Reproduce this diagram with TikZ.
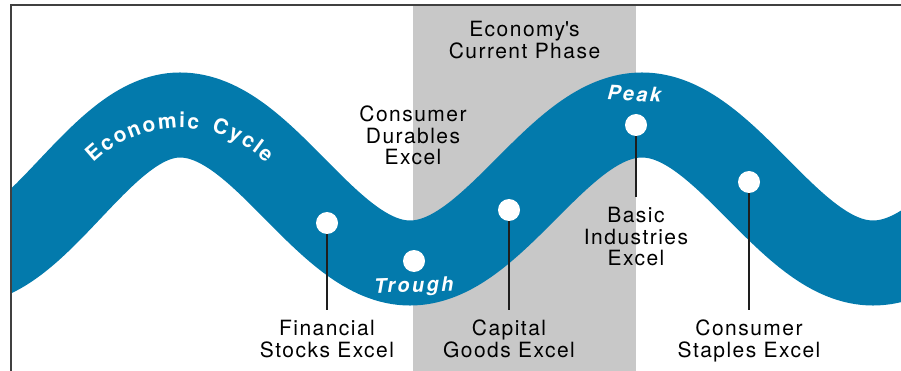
\documentclass[tikz,border=0pt]{standalone}
\usepackage{fontspec}
\setmainfont{TeX Gyre Heros}
\definecolor{bandblue}{RGB}{3,122,172}
\definecolor{phasegray}{RGB}{200,200,200}
\definecolor{pincol}{RGB}{30,30,30}
\newcommand\lblfont{\fontsize{21}{21.5}\selectfont\addfontfeatures{LetterSpace=7}}
\newcommand\cycfont{\fontsize{21}{21}\selectfont\bfseries}
\newcommand\bandfont{\fontsize{20}{20}\selectfont\bfseries\itshape\addfontfeatures{LetterSpace=12}}
\begin{document}
\begin{tikzpicture}[x=1pt,y=-1pt,
  dot/.style={circle, fill=white, minimum size=22pt, inner sep=0pt},
  pinline/.style={draw=pincol, line width=1.6pt},
  lbl/.style={align=center, inner sep=0pt, font=\lblfont, text=black},
  pinlbl/.style={lbl, inner ysep=10pt, anchor=north},
  cyc/.style={text=white, inner sep=0pt, font=\cycfont, anchor=base},
  bandlbl/.style={text=white, inner sep=0pt, font=\bandfont, anchor=base},
  frameline/.style={draw=black!75, line width=1.2pt}]
\useasboundingbox (0,0) rectangle (901,371);
% current phase band
\fill[phasegray] (413,5) rectangle (636,371);
% economic cycle wave
\begin{scope}
  \clip (11,5) rectangle (901,371);
  \draw[bandblue, line width=85pt] (-155,189) sin (-40,263) cos (70,189) sin (180,115)
    cos (295,189) sin (410,263) cos (526,189) sin (642,115) cos (757.5,189) sin (873,263)
    cos (990,189) sin (1105,115);
\end{scope}
% frame
\draw[frameline] (11,371) -- (11,5) -- (901,5);
% labels
\node[lbl, anchor=north] (ph) at (524.5,21) {Economy\textquotesingle s\\Current Phase};
\node[lbl, anchor=north] (dur) at (413,106) {Consumer\\Durables\\Excel};
\node[pinlbl] (l1) at (327,310) {Financial\\Stocks Excel};
\node[pinlbl] (l3) at (509,310) {Capital\\Goods Excel};
\node[pinlbl] (l4) at (636,197) {Basic\\Industries\\Excel};
\node[pinlbl] (l5) at (749,310) {Consumer\\Staples Excel};
% dots
\node[dot] (d1) at (327,223) {};
\node[dot] (d2) at (414,261) {};
\node[dot] (d3) at (509,210) {};
\node[dot] (d4) at (636,125) {};
\node[dot] (d5) at (749,182) {};
% pins
\draw[pinline] (d1) -- (l1);
\draw[pinline] (d3) -- (l3);
\draw[pinline] (d4) -- (l4);
\draw[pinline] (d5) -- (l5);
% band text
\foreach \ch/\ang [count=\i] in {E/130.97, c/124.10, o/117.52, n/110.68, o/103.84, m/95.64, i/89.06, c/84.09,
  C/71.87, y/64.73, c/58.40, l/53.43, e/48.46}
  \node[cyc, rotate=\ang-90] (ec\i) at ([shift={({-\ang}:124)}]180,252) {\ch};
\node[bandlbl, rotate=2] (tr) at (414,292) {Trough};
\node[bandlbl, rotate=-3] (pk) at (634,101) {Peak};
\end{tikzpicture}
\end{document}
